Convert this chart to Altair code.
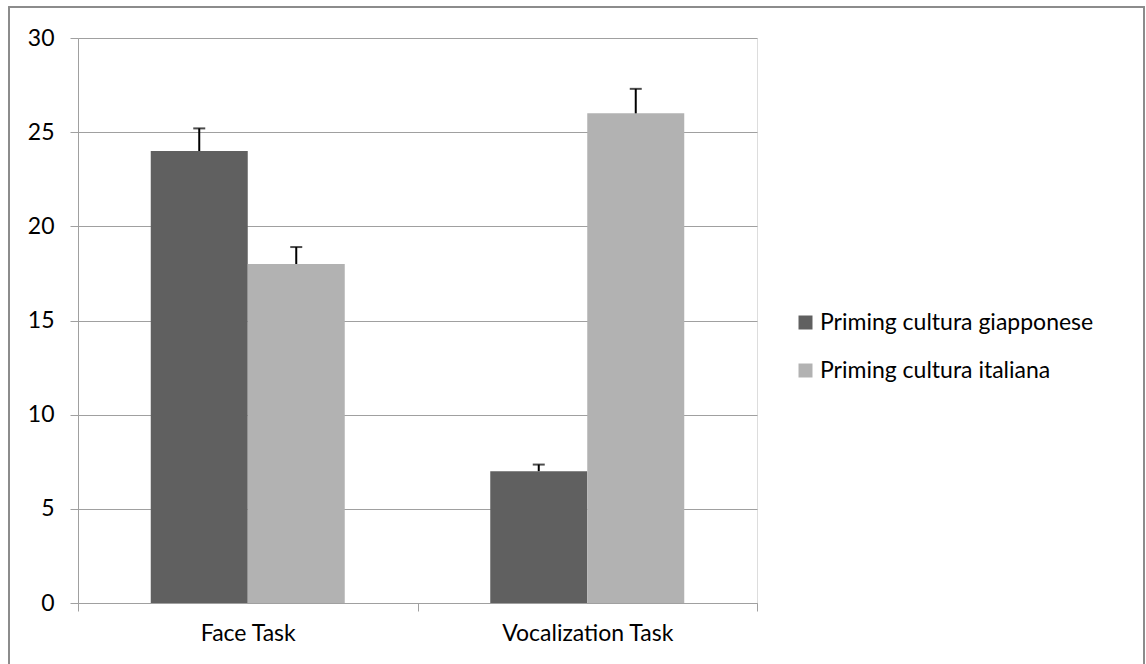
import altair as alt
import pandas as pd

tasks = ["Face Task", "Face Task", "Vocalization Task", "Vocalization Task"]
series = ["Priming cultura giapponese", "Priming cultura italiana",
          "Priming cultura giapponese", "Priming cultura italiana"]
values = [24, 18, 7, 26]
errors = [1.2, 0.9, 0.35, 1.3]

task_order = ["Face Task", "Vocalization Task"]
series_order = ["Priming cultura giapponese", "Priming cultura italiana"]
colors = ["#606060", "#b2b2b2"]

df = pd.DataFrame({"task": tasks, "series": series, "value": values, "err": errors})
df["top"] = df["value"] + df["err"]

FONT = "Lato"
FS = 23
x_enc = alt.X("task:N", sort=task_order, title=None,
              scale=alt.Scale(paddingInner=0, paddingOuter=0),
              axis=alt.Axis(labelAngle=0, tickBand="extent", domainColor="#a0a0a0",
                            tickColor="#a0a0a0", tickSize=8, labelPadding=11,
                            labelFontSize=FS, labelFont=FONT, labelColor="#000000",
                            grid=False))
xoff = alt.XOffset("series:N", sort=series_order,
                   scale=alt.Scale(paddingInner=0, paddingOuter=0.75))

bars = alt.Chart(df).mark_bar().encode(
    x=x_enc,
    xOffset=xoff,
    y=alt.Y("value:Q", title=None,
            scale=alt.Scale(domain=[0, 30], nice=False),
            axis=alt.Axis(values=[0, 5, 10, 15, 20, 25, 30], tickSize=8,
                          labelPadding=16, labelFontSize=FS, labelFont=FONT,
                          labelColor="#000000", domainColor="#a0a0a0",
                          tickColor="#a0a0a0", gridColor="#a0a0a0",
                          gridWidth=1.2)),
    color=alt.Color("series:N", sort=series_order,
                    scale=alt.Scale(domain=series_order, range=colors),
                    legend=alt.Legend(title=None, orient="none", legendX=716,
                                      legendY=273, symbolType="square",
                                      symbolSize=196, symbolStrokeWidth=0,
                                      labelFontSize=FS, labelFont=FONT,
                                      labelLimit=0,
                                      labelColor="#000000", rowPadding=24,
                                      labelOffset=3)),
)

err_rule = alt.Chart(df).mark_rule(color="#000000", strokeWidth=2).encode(
    x=alt.X("task:N", sort=task_order),
    xOffset=xoff,
    y="value:Q",
    y2="top:Q",
)

err_cap = alt.Chart(df).mark_tick(color="#000000", thickness=2, size=12).encode(
    x=alt.X("task:N", sort=task_order),
    xOffset=xoff,
    y="top:Q",
)

frame = alt.Chart(df).mark_rect(fill=None, stroke="#8c8c8c", strokeWidth=1.5,
                                clip=False).encode(
    x=alt.value(-69), x2=alt.value(1066),
    y=alt.value(-31), y2=alt.value(700),
)

chart = alt.layer(frame, bars, err_rule, err_cap).properties(
    width=679, height=565,
    autosize=alt.AutoSizeParams(type="none"),
    padding={"left": 78, "top": 38, "right": 389, "bottom": 61},
).configure_view(stroke=None).configure(background="#ffffff")

chart.save("out.html", embed_options={"renderer": "svg", "actions": False})
